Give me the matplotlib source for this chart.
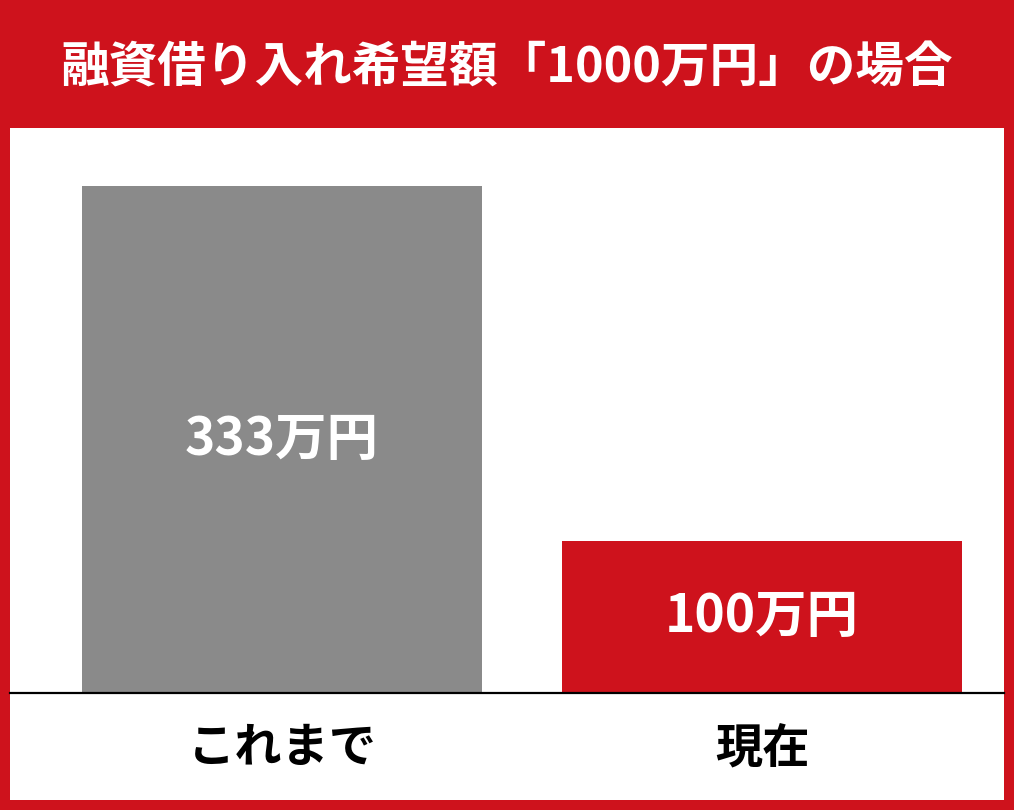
import matplotlib
matplotlib.use('Agg')
import matplotlib.pyplot as plt
import matplotlib.patches as mpatches

plt.rcParams['font.family'] = ['Noto Sans CJK JP', 'DejaVu Sans']

# データ
title = '融資借り入れ希望額「1000万円」の場合'
categories = ['これまで', '現在']
values = [333, 100]
value_labels = ['333万円', '100万円']
bar_colors = ['#8a8a8a', '#ce121c']

RED = '#ce121c'
W, H = 1014, 810

fig = plt.figure(figsize=(W / 100, H / 100), dpi=100)
fig.patch.set_facecolor(RED)

# 白い本体部分
fig.patches.append(mpatches.Rectangle((10 / W, 10 / H), 994 / W, 672 / H,
                                      transform=fig.transFigure,
                                      facecolor='white', edgecolor='none', zorder=-10))

# タイトル
fig.text(0.5, 1 - 68 / H, title, color='white', fontsize=35,
         fontweight='bold', ha='center', va='center')

# 棒グラフ
ax = fig.add_axes([10 / W, (H - 693) / H, 994 / W, (693 - 128) / H])
ax.patch.set_alpha(0)
xs = list(range(len(categories)))
ax.bar(xs, values, width=400 / 480, color=bar_colors, zorder=2)
ax.set_xlim(-272 / 480, 1 + 242 / 480)
ax.set_ylim(0, 565 / (507 / 333))

for x, v, lab in zip(xs, values, value_labels):
    ax.text(x, v / 2, lab, color='white', fontsize=37, fontweight='bold',
            ha='center', va='center', zorder=3)

for x, cat in zip(xs, categories):
    ax.text(x, -55 / 565, cat, color='black', fontsize=34, fontweight='bold',
            ha='center', va='center',
            transform=ax.get_xaxis_transform())

for side in ['top', 'left', 'right']:
    ax.spines[side].set_visible(False)
ax.spines['bottom'].set_color('black')
ax.spines['bottom'].set_linewidth(1.6)
ax.set_xticks([])
ax.set_yticks([])

plt.savefig('out.png', dpi=100, facecolor=RED)
plt.close()
